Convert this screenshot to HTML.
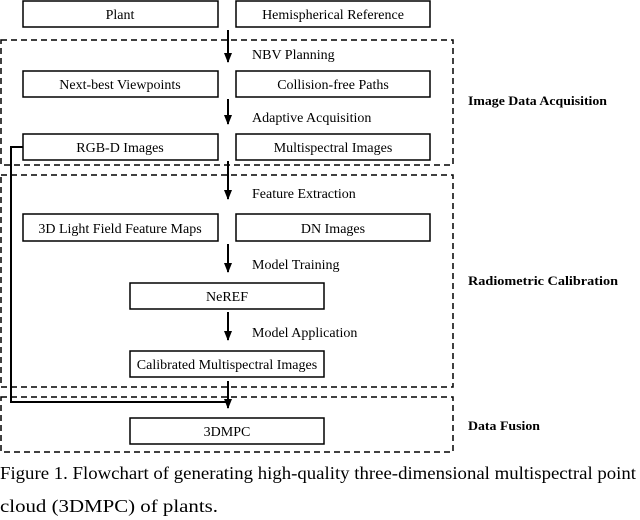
<!DOCTYPE html>
<html><head><style>body{margin:0;background:#fff}svg{display:block}</style></head><body>
<svg width="640" height="520" xmlns="http://www.w3.org/2000/svg" font-family="Liberation Serif, serif" font-size="14">
<defs><marker id="a" markerWidth="8" markerHeight="10" refX="4" refY="9" orient="0" markerUnits="userSpaceOnUse"><path d="M0,0 L8,0 L4,10z" fill="#000"/></marker></defs>
<g fill="none" stroke="#000" stroke-width="1.5">
<g stroke-dasharray="6,4">
<rect x="1" y="40" width="452" height="125"/>
<rect x="1" y="175" width="452" height="212"/>
<rect x="1" y="397" width="452" height="55"/>
</g>
<rect x="23" y="1" width="195" height="26"/><rect x="236" y="1" width="194" height="26"/>
<rect x="23" y="71" width="195" height="26"/><rect x="236" y="71" width="194" height="26"/>
<rect x="23" y="134" width="195" height="26"/><rect x="236" y="134" width="194" height="26"/>
<rect x="23" y="214" width="195" height="27"/><rect x="236" y="214" width="194" height="27"/>
<rect x="130" y="283" width="194" height="26"/>
<rect x="130" y="351" width="194" height="26"/>
<rect x="130" y="418" width="194" height="26"/>
<g stroke-width="2">
<line x1="228" y1="30" x2="228" y2="62" marker-end="url(#a)"/>
<line x1="228" y1="99" x2="228" y2="124" marker-end="url(#a)"/>
<line x1="228" y1="161" x2="228" y2="199" marker-end="url(#a)"/>
<line x1="228" y1="244" x2="228" y2="272" marker-end="url(#a)"/>
<line x1="228" y1="312" x2="228" y2="340" marker-end="url(#a)"/>
<line x1="228" y1="381" x2="228" y2="408" marker-end="url(#a)"/>
<polyline points="23,147 11,147 11,402 228,402"/>
</g>
</g>
<g text-anchor="middle">
<text x="120" y="19">Plant</text><text x="333" y="19">Hemispherical Reference</text>
<text x="120" y="89">Next-best Viewpoints</text><text x="333" y="89">Collision-free Paths</text>
<text x="120" y="152">RGB-D Images</text><text x="333" y="152">Multispectral Images</text>
<text x="120" y="233">3D Light Field Feature Maps</text><text x="333" y="233">DN Images</text>
<text x="227" y="301">NeREF</text>
<text x="227" y="369">Calibrated Multispectral Images</text>
<text x="227" y="436">3DMPC</text>
</g>
<text x="252" y="59">NBV Planning</text>
<text x="252" y="122">Adaptive Acquisition</text>
<text x="252" y="198">Feature Extraction</text>
<text x="252" y="269">Model Training</text>
<text x="252" y="337">Model Application</text>
<g font-weight="bold" font-size="13">
<text x="468" y="105" textLength="139" lengthAdjust="spacingAndGlyphs">Image Data Acquisition</text>
<text x="468" y="285" textLength="150" lengthAdjust="spacingAndGlyphs">Radiometric  Calibration</text>
<text x="468" y="430" textLength="72" lengthAdjust="spacingAndGlyphs">Data Fusion</text>
</g>
<text x="0" y="479" font-size="18" textLength="636" lengthAdjust="spacingAndGlyphs">Figure 1. Flowchart of generating high-quality three-dimensional multispectral point</text>
<text x="0" y="512" font-size="18" textLength="218" lengthAdjust="spacingAndGlyphs">cloud (3DMPC) of plants.</text>
</svg>
</body></html>
